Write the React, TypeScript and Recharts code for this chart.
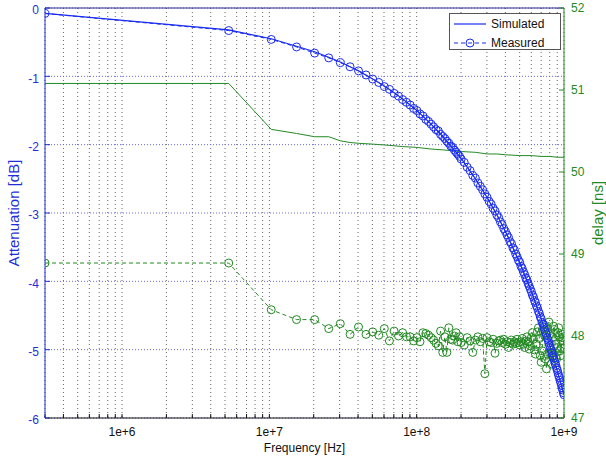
import { LineChart, Line, XAxis, YAxis, CartesianGrid, Legend, ReferenceLine } from "recharts"

// simulated curves (Hz)
const freqSim = [
  0.3e6, 5.3e6, 10.3e6, 15.3e6, 20.3e6, 25.3e6, 30.3e6, 35.3e6, 40.3e6, 50.3e6,
  60.3e6, 70.3e6, 80.3e6, 100.3e6, 125.3e6, 150.3e6, 200.3e6, 250.3e6, 300.3e6, 350.3e6,
  400.3e6, 500.3e6, 600.3e6, 700.3e6, 800.3e6, 900.3e6, 1000e6,
]
const attenSim = [
  -0.08, -0.32, -0.45, -0.56, -0.64, -0.72, -0.79, -0.86, -0.92, -1.04,
  -1.14, -1.24, -1.33, -1.5, -1.7, -1.88, -2.2, -2.5, -2.77, -3.03,
  -3.27, -3.73, -4.15, -4.55, -4.94, -5.31, -5.66,
]
const delaySim = [
  51.08, 51.08, 50.52, 50.47, 50.43, 50.43, 50.38, 50.36, 50.35, 50.34,
  50.33, 50.32, 50.31, 50.3, 50.28, 50.27, 50.25, 50.24, 50.22, 50.22,
  50.21, 50.2, 50.2, 50.19, 50.19, 50.18, 50.18,
]

// measured sweep (Hz)
const freqMeas = [
  0.3e6, 5.3e6, 10.3e6, 15.3e6, 20.3e6, 25.3e6, 30.3e6, 35.3e6, 40.3e6, 45.3e6,
  50.3e6, 55.3e6, 60.3e6, 65.3e6, 70.3e6, 75.3e6, 80.3e6, 85.3e6, 90.3e6, 95.3e6,
  100.3e6, 105.3e6, 110.3e6, 115.3e6, 120.3e6, 125.3e6, 130.3e6, 135.3e6, 140.3e6, 145.3e6,
  150.3e6, 155.3e6, 160.3e6, 165.3e6, 170.3e6, 175.3e6, 180.3e6, 185.3e6, 190.3e6, 195.3e6,
  200.3e6,
  210.3e6, 220.3e6, 230.3e6, 240.3e6, 250.3e6, 260.3e6, 270.3e6, 280.3e6, 290.3e6, 300.3e6,
  310.3e6, 320.3e6, 330.3e6, 340.3e6, 350.3e6, 360.3e6, 370.3e6, 380.3e6, 390.3e6, 400.3e6,
  410.3e6, 420.3e6, 430.3e6, 440.3e6, 450.3e6, 460.3e6, 470.3e6, 480.3e6, 490.3e6, 500.3e6,
  510.3e6, 520.3e6, 530.3e6, 540.3e6, 550.3e6, 560.3e6, 570.3e6, 580.3e6, 590.3e6, 600.3e6,
  610.3e6, 620.3e6, 630.3e6, 640.3e6, 650.3e6, 660.3e6, 670.3e6, 680.3e6, 690.3e6, 700.3e6,
  710.3e6, 720.3e6, 730.3e6, 740.3e6, 750.3e6, 760.3e6, 770.3e6, 780.3e6, 790.3e6, 800.3e6,
  810.3e6, 820.3e6, 830.3e6, 840.3e6, 850.3e6, 860.3e6, 870.3e6, 880.3e6, 890.3e6, 900.3e6,
  910.3e6, 920.3e6, 930.3e6, 940.3e6, 950.3e6, 960.3e6, 970.3e6, 980.3e6, 990.3e6,
  1000e6,
]
const attenMeas = [
  -0.08, -0.33, -0.46, -0.57, -0.66, -0.73, -0.8, -0.86, -0.92, -0.98,
  -1.04, -1.09, -1.15, -1.19, -1.25, -1.29, -1.34, -1.38, -1.42, -1.47,
  -1.5, -1.55, -1.58, -1.63, -1.66, -1.7, -1.74, -1.78, -1.8, -1.85,
  -1.88, -1.91, -1.95, -1.98, -2.02, -2.04, -2.08, -2.11, -2.14, -2.17,
  -2.21,
  -2.26, -2.33, -2.38, -2.45, -2.49, -2.56, -2.61, -2.66, -2.72, -2.77,
  -2.83, -2.87, -2.93, -2.97, -3.03, -3.07, -3.13, -3.17, -3.23, -3.27,
  -3.32, -3.36, -3.42, -3.45, -3.51, -3.54, -3.6, -3.64, -3.69, -3.72,
  -3.78, -3.81, -3.86, -3.9, -3.95, -3.98, -4.03, -4.07, -4.11, -4.15,
  -4.2, -4.23, -4.28, -4.31, -4.36, -4.39, -4.44, -4.47, -4.52, -4.55,
  -4.6, -4.63, -4.67, -4.71, -4.75, -4.78, -4.83, -4.86, -4.9, -4.94,
  -4.98, -5.01, -5.05, -5.09, -5.12, -5.16, -5.2, -5.23, -5.27, -5.3,
  -5.34, -5.38, -5.41, -5.45, -5.48, -5.52, -5.56, -5.59, -5.63,
  -5.66,
]
const delayMeas = [
  48.89, 48.89, 48.32, 48.2, 48.2, 48.09, 48.15, 48.02, 48.11, 48.02,
  48.05, 48.01, 48.09, 47.94, 48.06, 48.0, 48.04, 47.99, 47.99, 47.94,
  47.98, 47.93, 48.04, 48.03, 48.01, 47.98, 47.95, 47.91, 47.88, 48.06,
  47.8, 47.99, 47.8, 48.1, 47.96, 47.95, 48.0, 48.04, 47.93, 47.99,
  47.92,
  47.89, 47.98, 47.94, 47.8, 47.95, 47.99, 47.93, 47.97, 47.54, 47.98,
  47.93, 47.92, 47.96, 47.79, 47.91, 47.94, 47.95, 47.92, 47.96, 47.9,
  47.93, 47.86, 47.92, 47.95, 47.9, 47.93, 47.91, 47.96, 47.92, 47.89,
  47.93, 47.97, 47.9, 47.86, 47.94, 47.99, 47.93, 47.84, 47.88, 47.98,
  48.04, 47.96, 47.83, 47.78, 47.9, 48.05, 48.1, 47.97, 47.76, 47.68,
  47.82, 48.06, 48.14, 48.0, 47.72, 47.6, 47.78, 48.08, 48.17, 48.02,
  47.8, 47.66, 47.75, 47.98, 48.12, 48.08, 47.9, 47.74, 47.72, 47.86,
  48.04, 48.1, 47.99, 47.82, 47.76, 47.85, 47.98, 48.02, 47.94,
  47.86,
]

const xTicks = [
  3e5, 4e5, 5e5, 6e5, 7e5, 8e5, 9e5,
  1e6, 2e6, 3e6, 4e6, 5e6, 6e6, 7e6, 8e6, 9e6,
  1e7, 2e7, 3e7, 4e7, 5e7, 6e7, 7e7, 8e7, 9e7,
  1e8, 2e8, 3e8, 4e8, 5e8, 6e8, 7e8, 8e8, 9e8,
  1e9,
]
const decades = [1e6, 1e7, 1e8, 1e9]
const decadeLabels = ["1e+6", "1e+7", "1e+8", "1e+9"]
const attenTicks = [-6, -5, -4, -3, -2, -1, 0]
const delayTicks = [47, 48, 49, 50, 51, 52]

const BLUE = "#1a2cf0"
const BLUE_TEXT = "#1f2fd8"
const GREEN = "#238a23"
const FONT = "'Liberation Sans', Arial, sans-serif"

const simRows = freqSim.map((f, i) => ({ f, atten: attenSim[i], delay: delaySim[i] }))
const measRows = freqMeas.map((f, i) => ({ f, atten: attenMeas[i], delay: delayMeas[i] }))

const formatX = (v: number) => {
  const i = decades.indexOf(v)
  return i >= 0 ? decadeLabels[i] : ""
}

const LegendBox = () => (
  <div
    style={{
      position: "relative",
      width: 112,
      height: 37,
      boxSizing: "border-box",
      border: "1px solid #555",
      background: "#fff",
      fontFamily: FONT,
      fontSize: 12,
      color: "#111",
    }}
  >
    <svg width={40} height={37} style={{ position: "absolute", left: 0, top: 0 }}>
      <line x1={4} x2={36} y1={10} y2={10} stroke={BLUE} strokeWidth={1.2} />
      <line x1={4} x2={36} y1={29} y2={29} stroke={BLUE} strokeWidth={1} strokeDasharray="4 3" />
      <circle cx={20} cy={29} r={4} fill="none" stroke={BLUE} />
    </svg>
    <span style={{ position: "absolute", left: 41, top: 3 }}>Simulated</span>
    <span style={{ position: "absolute", left: 41, top: 22 }}>Measured</span>
  </div>
)

export default function App() {
  return (
    <div style={{ position: "absolute", left: 0, top: 0, width: 606, height: 456, background: "#fff" }}>
      <LineChart width={606} height={456} margin={{ top: 8, right: 0, bottom: 0, left: 0 }}>
        <CartesianGrid yAxisId="left" horizontal={false} stroke="#666" strokeDasharray="1 3" />
        <CartesianGrid yAxisId="left" vertical={false} stroke="#6a6ae0" strokeDasharray="1 2" />
        <XAxis
          dataKey="f"
          type="number"
          scale="log"
          domain={[3e5, 1e9]}
          allowDataOverflow
          ticks={xTicks}
          interval={0}
          tickFormatter={formatX}
          height={38}
          stroke="#111"
          tickSize={-4}
          tickMargin={13}
          tick={{ fill: "#111", fontSize: 12, fontFamily: FONT }}
          label={{ value: "Frequency [Hz]", position: "insideBottom", offset: 4, fill: "#111", fontSize: 12, fontFamily: FONT }}
        />
        <YAxis
          yAxisId="left"
          orientation="left"
          type="number"
          domain={[-6, 0]}
          ticks={attenTicks}
          interval={0}
          width={45}
          stroke={BLUE_TEXT}
          tickSize={-5}
          tickMargin={11}
          tick={{ fill: BLUE_TEXT, fontSize: 12, fontFamily: FONT, dy: 2 }}
          label={{
            value: "Attenuation [dB]",
            angle: -90,
            position: "insideLeft",
            offset: 14,
            fill: BLUE_TEXT,
            fontSize: 15,
            fontFamily: FONT,
            style: { textAnchor: "middle" },
          }}
        />
        <YAxis
          yAxisId="right"
          orientation="right"
          type="number"
          domain={[47, 52]}
          ticks={delayTicks}
          interval={0}
          width={42}
          stroke={GREEN}
          tickSize={-5}
          tickMargin={12}
          tick={{ fill: GREEN, fontSize: 12, fontFamily: FONT, dy: 0 }}
          label={{
            value: "delay [ns]",
            angle: -90,
            position: "insideRight",
            offset: 8,
            fill: GREEN,
            fontSize: 15,
            fontFamily: FONT,
            style: { textAnchor: "middle" },
          }}
        />
        <ReferenceLine yAxisId="left" y={0} stroke="#303090" strokeWidth={1} ifOverflow="extendDomain" />
        <Line
          yAxisId="right"
          data={simRows}
          dataKey="delay"
          type="linear"
          stroke={GREEN}
          strokeWidth={1}
          dot={false}
          isAnimationActive={false}
          legendType="none"
        />
        <Line
          yAxisId="right"
          data={measRows}
          dataKey="delay"
          type="linear"
          stroke={GREEN}
          strokeWidth={1}
          strokeDasharray="4 3"
          dot={{ r: 4, fill: "none", stroke: GREEN, strokeWidth: 1, strokeDasharray: "none" }}
          isAnimationActive={false}
          legendType="none"
        />
        <Line
          yAxisId="left"
          data={simRows}
          dataKey="atten"
          name="Simulated"
          type="linear"
          stroke={BLUE}
          strokeWidth={1.2}
          dot={false}
          isAnimationActive={false}
        />
        <Line
          yAxisId="left"
          data={measRows}
          dataKey="atten"
          name="Measured"
          type="linear"
          stroke={BLUE}
          strokeWidth={1}
          strokeDasharray="4 3"
          dot={{ r: 4, fill: "none", stroke: BLUE, strokeWidth: 1, strokeDasharray: "none" }}
          isAnimationActive={false}
        />
        <Legend
          layout="vertical"
          align="center"
          verticalAlign="middle"
          content={() => <LegendBox />}
          wrapperStyle={{ left: 449, top: 13, width: 112, height: 37 }}
        />
      </LineChart>
    </div>
  )
}
